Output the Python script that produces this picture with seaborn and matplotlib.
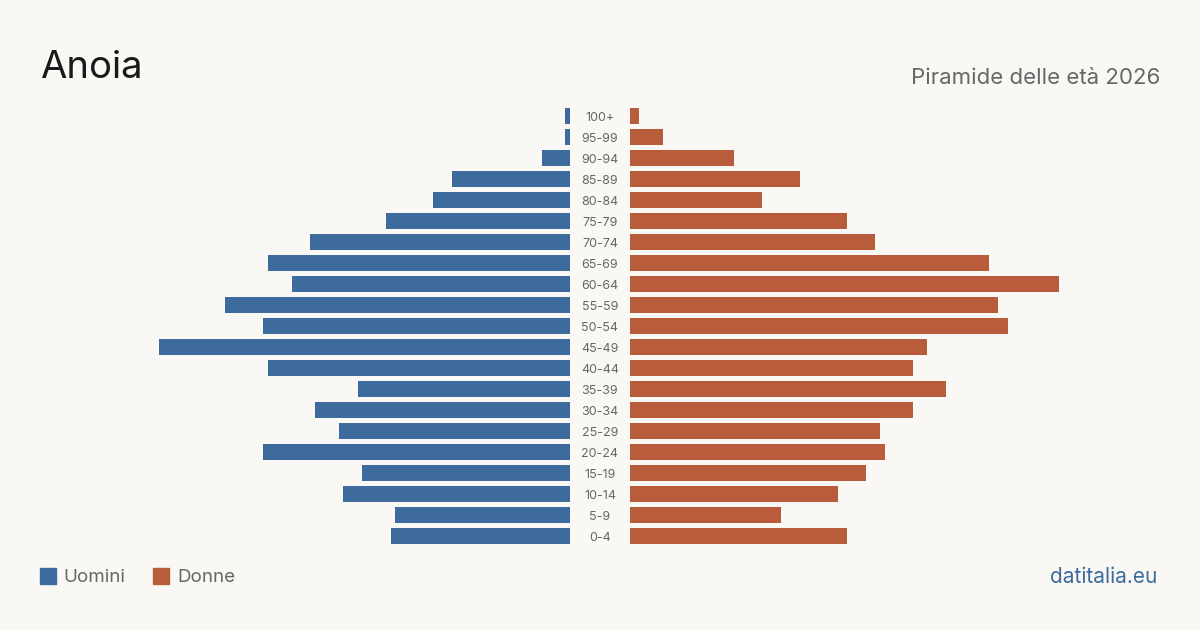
import matplotlib
matplotlib.use("Agg")
import matplotlib.pyplot as plt
import matplotlib.transforms as mtransforms
import seaborn as sns
import pandas as pd

# data (youngest group last)
ages = ["100+", "95-99", "90-94", "85-89", "80-84", "75-79", "70-74", "65-69",
        "60-64", "55-59", "50-54", "45-49", "40-44", "35-39", "30-34", "25-29",
        "20-24", "15-19", "10-14", "5-9", "0-4"]
uomini = [1, 1, 6, 25, 29, 39, 55, 64, 59, 73, 65, 87, 64, 45, 54, 49, 65, 44, 48, 37, 38]
donne = [2, 7, 22, 36, 28, 46, 52, 76, 91, 78, 80, 63, 60, 67, 60, 53, 54, 50, 44, 32, 46]

bg = "#f9f8f4"
blu = "#3d6b9e"
ros = "#b95c3c"
xmax = 112.3

df_m = pd.DataFrame({"eta": ages, "n": uomini})
df_f = pd.DataFrame({"eta": ages, "n": donne})

sns.set_style("white")
plt.rcParams["font.family"] = ["Inter", "DejaVu Sans"]

fig = plt.figure(figsize=(12, 6.3), dpi=100, facecolor=bg)
bottom = 1 - 546.5 / 630
height = (546.5 - 105.5) / 630
ax_m = fig.add_axes([40 / 1200, bottom, 530 / 1200, height])
ax_f = fig.add_axes([630 / 1200, bottom, 530 / 1200, height])

sns.barplot(data=df_m, x="n", y="eta", orient="h", color=blu, width=0.8,
            saturation=1, linewidth=0, ax=ax_m)
sns.barplot(data=df_f, x="n", y="eta", orient="h", color=ros, width=0.8,
            saturation=1, linewidth=0, ax=ax_f)

ax_m.set_xlim(xmax, 0)
ax_f.set_xlim(0, xmax)
for ax in (ax_m, ax_f):
    ax.set_ylim(len(ages) - 0.5, -0.5)
    ax.set_facecolor(bg)
    ax.set_xlabel("")
    ax.set_ylabel("")
    ax.set_xticks([])
    ax.set_yticks([])
    sns.despine(ax=ax, left=True, bottom=True)

# age labels in the middle gap
trans = mtransforms.blended_transform_factory(fig.transFigure, ax_f.transData)
for i, a in enumerate(ages):
    ax_f.text(600 / 1200, i + 0.08, a, transform=trans, ha="center", va="center",
              fontsize=9, color="#666666")

fig.text(40 / 1200, 1 - 68 / 630, "Anoia", fontsize=27.5, color="#1a1a1a",
         ha="left", va="center")
fig.text(1160 / 1200, 1 - 77.5 / 630, "Piramide delle età 2026", fontsize=16,
         color="#666666", ha="right", va="center")

# legend
fig.patches.append(plt.Rectangle((40 / 1200, 1 - 584 / 630), 16 / 1200, 16 / 630,
                                 transform=fig.transFigure, color=blu))
fig.text(63 / 1200, 1 - 577.5 / 630, "Uomini", fontsize=13.5, color="#666666",
         ha="left", va="center")
fig.patches.append(plt.Rectangle((153 / 1200, 1 - 584 / 630), 16 / 1200, 16 / 630,
                                 transform=fig.transFigure, color=ros))
fig.text(177 / 1200, 1 - 577.5 / 630, "Donne", fontsize=13.5, color="#666666",
         ha="left", va="center")

fig.text(1157 / 1200, 1 - 577 / 630, "datitalia.eu", fontsize=15, color=blu,
         ha="right", va="center")

fig.savefig("out.png", dpi=100, facecolor=bg)
